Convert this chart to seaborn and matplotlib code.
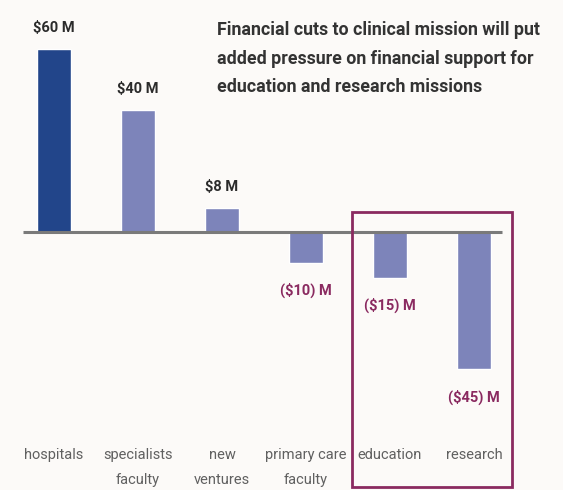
import matplotlib
matplotlib.use("Agg")
import matplotlib.pyplot as plt
import seaborn as sns
import pandas as pd
from matplotlib.patches import Rectangle

categories = ["hospitals", "specialists\nfaculty", "new\nventures",
              "primary care\nfaculty", "education", "research"]
values = [60, 40, 8, -10, -15, -45]
value_labels = ["$60 M", "$40 M", "$8 M", "($10) M", "($15) M", "($45) M"]
bar_colors = ["#22458A", "#7D84BA", "#7D84BA", "#7D84BA", "#7D84BA", "#7D84BA"]
note_lines = ["Financial cuts to clinical mission will put",
              "added pressure on financial support for",
              "education and research missions"]

sns.set_style("white")
plt.rcParams["font.family"] = ["Roboto", "DejaVu Sans"]

bg = "#FCFAF8"
fig = plt.figure(figsize=(5.63, 4.9), dpi=100, facecolor=bg)
W, H = 563, 490
ax_bottom_px = 440
ax = fig.add_axes([0, 1 - ax_bottom_px / H, 1, ax_bottom_px / H])
ax.set_facecolor(bg)

df = pd.DataFrame({"category": categories, "value": values})
sns.barplot(data=df, x="category", y="value", hue="category",
            palette=bar_colors, width=0.405, legend=False, ax=ax,
            saturation=1)

px_per_cat = 84.0
x0_px = 54.0
ax.set_xlim((0 - x0_px) / px_per_cat, (W - x0_px) / px_per_cat)
ppu = 3.05
base_px = 232.0
ax.set_ylim((base_px - ax_bottom_px) / ppu, base_px / ppu)

ax.plot([(23 - x0_px) / px_per_cat, (502 - x0_px) / px_per_cat], [0, 0],
        color="#7A7A7A", lw=2.2, solid_capstyle="butt", zorder=3)

for i, (v, lab) in enumerate(zip(values, value_labels)):
    if v >= 0:
        ax.annotate(lab, (i, v), xytext=(0, 21), textcoords="offset pixels",
                    ha="center", va="center", fontsize=10.5, fontweight="bold",
                    color="#2B2B2B")
    else:
        ax.annotate(lab, (i, v), xytext=(0, -28), textcoords="offset pixels",
                    ha="center", va="center", fontsize=10.5, fontweight="bold",
                    color="#8A2A60")

ax.set_xlabel("")
ax.set_ylabel("")
ax.set_yticks([])
ax.tick_params(axis="x", length=0, pad=6, labelsize=10.5, labelcolor="#606060")
for t in ax.get_xticklabels():
    t.set_linespacing(1.95)
sns.despine(ax=ax, left=True, bottom=True, top=True, right=True)

for k, line in enumerate(note_lines):
    fig.text(217 / W, 1 - (30 + 28.5 * k) / H, line, ha="left", va="center",
             fontsize=12.8, fontweight="bold", color="#333333")

fig.patches.append(Rectangle((352 / W, 1 - 487 / H), 160 / W, 275 / H,
                             transform=fig.transFigure, fill=False,
                             edgecolor="#8A2A60", lw=2, zorder=5))

fig.savefig("out.png", dpi=100, facecolor=bg)
